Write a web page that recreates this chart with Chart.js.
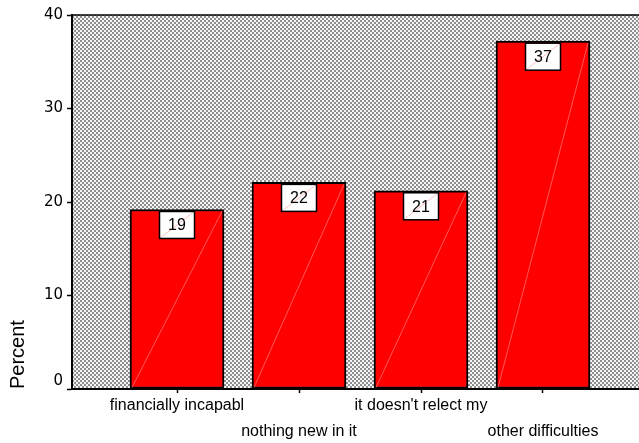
<!DOCTYPE html>
<html>
<head>
<meta charset="utf-8">
<script src="https://cdn.jsdelivr.net/npm/chart.js@4.4.1/dist/chart.umd.min.js"></script>
<style>
  html, body { margin: 0; padding: 0; background: #ffffff; }
  #wrap { width: 639px; height: 443px; }
</style>
</head>
<body>
<div id="wrap"><canvas id="chart" width="639" height="443"></canvas></div>
<script>
// Reasons given, share of respondents (%)
const categories = ['financially incapabl', 'nothing new in it', "it doesn't relect my", 'other difficulties'];
const percents = [19.2, 22.1, 21.2, 37.2];
const yTickValues = [0, 10, 20, 30, 40];

const barRed = '#ff0000';

// Dotted grey fill behind the bars
function makeDotPattern(ctx) {
  const tile = document.createElement('canvas');
  tile.width = 4; tile.height = 4;
  const t = tile.getContext('2d');
  t.fillStyle = '#f6f6f6';
  t.fillRect(0, 0, 4, 4);
  t.fillStyle = '#8e8e8e';
  t.fillRect(0, 0, 2, 2);
  t.fillRect(2, 2, 2, 2);
  return ctx.createPattern(tile, 'repeat');
}

const plotFrame = {
  id: 'plotFrame',
  beforeDraw(chart) {
    const { ctx, chartArea: a } = chart;
    ctx.save();
    ctx.fillStyle = makeDotPattern(ctx);
    ctx.fillRect(a.left, a.top, a.right - a.left, a.bottom - a.top);
    ctx.restore();
  },
  afterDraw(chart) {
    const { ctx, chartArea: a } = chart;
    ctx.save();
    ctx.strokeStyle = '#000';
    ctx.lineWidth = 1.5;
    ctx.beginPath();
    ctx.moveTo(a.left, a.top);
    ctx.lineTo(a.right, a.top);
    ctx.stroke();
    ctx.restore();
  }
};

// Faint diagonal streak in each bar plus the boxed value label at its top
const barLabels = {
  id: 'barLabels',
  afterDatasetsDraw(chart) {
    const { ctx } = chart;
    const meta = chart.getDatasetMeta(0);
    meta.data.forEach((bar, i) => {
      const p = bar.getProps(['x', 'y', 'base', 'width'], true);
      const left = p.x - p.width / 2, right = p.x + p.width / 2;
      ctx.save();
      ctx.strokeStyle = 'rgba(255,200,200,0.55)';
      ctx.lineWidth = 0.8;
      ctx.beginPath();
      ctx.moveTo(left + 2, p.base - 1);
      ctx.lineTo(right - 2, p.y + 2);
      ctx.stroke();

      const bw = 35, bh = 27;
      const bx = p.x - bw / 2, by = p.y + 2;
      ctx.fillStyle = '#ffffff';
      ctx.fillRect(bx, by, bw, bh);
      ctx.strokeStyle = 'rgba(255,110,110,0.55)';
      ctx.lineWidth = 0.8;
      ctx.beginPath();
      ctx.moveTo(bx, by + bh);
      ctx.lineTo(bx + bw, by);
      ctx.stroke();
      ctx.strokeStyle = '#000';
      ctx.lineWidth = 1.5;
      ctx.strokeRect(bx, by, bw, bh);

      ctx.fillStyle = '#000';
      ctx.font = '16px "Liberation Sans", Arial, sans-serif';
      ctx.textAlign = 'center';
      ctx.textBaseline = 'middle';
      ctx.fillText(String(Math.round(percents[i])), p.x, by + bh / 2 + 1);
      ctx.restore();
    });
  }
};

const ctx = document.getElementById('chart').getContext('2d');
new Chart(ctx, {
  type: 'bar',
  data: {
    datasets: [{
      data: percents.map((v, i) => ({ x: i, y: v })),
      backgroundColor: barRed,
      borderColor: '#000000',
      borderWidth: 2,
      borderSkipped: false,
      barThickness: 94
    }]
  },
  options: {
    responsive: false,
    devicePixelRatio: 1,
    animation: false,
    layout: { padding: { top: 15, right: 0, bottom: 0, left: 0 } },
    plugins: {
      legend: { display: false },
      tooltip: { enabled: false }
    },
    scales: {
      x: {
        type: 'linear',
        offset: false,
        min: -0.8607,
        max: 3.7869,
        afterBuildTicks(scale) {
          scale.ticks = categories.map((_, i) => ({ value: i }));
        },
        afterFit(scale) { scale.height = 54; },
        grid: {
          offset: false,
          drawOnChartArea: false,
          drawTicks: true,
          tickLength: 4,
          tickWidth: 1.5,
          tickColor: '#000'
        },
        border: { display: true, color: '#000', width: 2 },
        ticks: {
          autoSkip: false,
          maxRotation: 0,
          minRotation: 0,
          padding: 0,
          color: '#000',
          font: { family: '"Liberation Sans", Arial, sans-serif', size: 16, lineHeight: 1.625 },
          callback(value, index) {
            const label = categories[Math.round(value)];
            return index % 2 ? ['', label] : label;
          }
        }
      },
      y: {
        type: 'linear',
        min: 0,
        max: 40,
        afterBuildTicks(scale) {
          scale.ticks = yTickValues.map(v => ({ value: v }));
        },
        afterFit(scale) { scale.width = 72; },
        grid: {
          drawOnChartArea: false,
          drawTicks: true,
          tickLength: 5,
          tickWidth: 1.5,
          tickColor: '#000'
        },
        border: { display: true, color: '#000', width: 2 },
        ticks: {
          padding: 4,
          color: '#000',
          font: { family: '"DejaVu Sans", sans-serif', size: 15, lineHeight: 1.1 },
          callback(value) {
            return value === 0 ? ['0', ''] : String(value);
          }
        },
        title: {
          display: true,
          text: 'Percent',
          align: 'start',
          color: '#000',
          font: { family: '"Liberation Sans", Arial, sans-serif', size: 20 },
          padding: { top: 6, bottom: 0 }
        }
      }
    }
  },
  plugins: [plotFrame, barLabels]
});
</script>
</body>
</html>
